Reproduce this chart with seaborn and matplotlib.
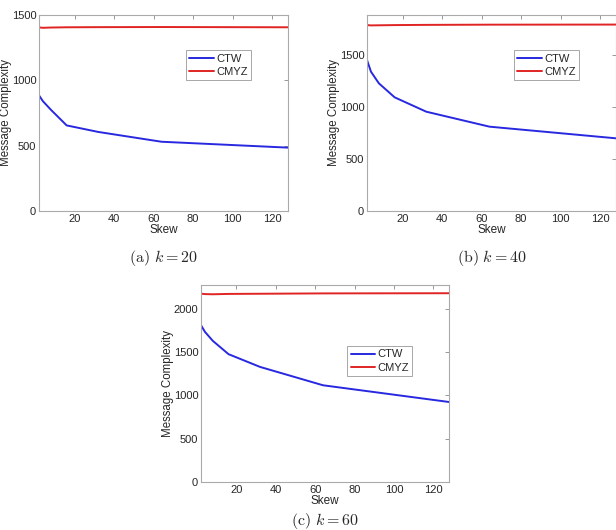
import matplotlib.pyplot as plt
import numpy as np
import pandas as pd
import seaborn as sns

skew = [2, 4, 8, 16, 32, 64, 128]

ctw_k20 = [885, 840, 775, 655, 605, 530, 485]
cmyz_k20 = [1405, 1402, 1404, 1406, 1407, 1408, 1406]

ctw_k40 = [1452, 1340, 1228, 1093, 955, 811, 699]
cmyz_k40 = [1788, 1785, 1786, 1788, 1790, 1792, 1793]

ctw_k60 = [1811, 1734, 1630, 1476, 1329, 1117, 924]
cmyz_k60 = [2175, 2170, 2168, 2172, 2174, 2178, 2180]

panels = [
    {'ctw': ctw_k20, 'cmyz': cmyz_k20, 'ylim': 1500, 'yticks': [0, 500, 1000, 1500],
     'caption': r'$\mathrm{(a)}\ k = 20$', 'pos': [39, 15, 288, 211], 'leg': (0.59, 0.82), 'cap': 47},
    {'ctw': ctw_k40, 'cmyz': cmyz_k40, 'ylim': 1885, 'yticks': [0, 500, 1000, 1500],
     'caption': r'$\mathrm{(b)}\ k = 40$', 'pos': [367, 15, 616, 211], 'leg': (0.59, 0.82), 'cap': 47},
    {'ctw': ctw_k60, 'cmyz': cmyz_k60, 'ylim': 2275, 'yticks': [0, 500, 1000, 1500, 2000],
     'caption': r'$\mathrm{(c)}\ k = 60$', 'pos': [201, 285, 449, 482], 'leg': (0.59, 0.69), 'cap': 39},
]

W, H = 616, 530

sns.set_style('white')
plt.rcParams['font.family'] = ['Liberation Sans', 'DejaVu Sans']
plt.rcParams['mathtext.fontset'] = 'cm'

fig = plt.figure(figsize=(W / 100, H / 100), dpi=100)

for p in panels:
    x0, y0, x1, y1 = p['pos']
    ax = fig.add_axes([x0 / W, 1 - y1 / H, (x1 - x0) / W, (y1 - y0) / H])
    df = pd.DataFrame({
        'Skew': skew * 2,
        'value': p['ctw'] + p['cmyz'],
        'algo': ['CTW'] * len(skew) + ['CMYZ'] * len(skew),
    })
    sns.lineplot(data=df, x='Skew', y='value', hue='algo', ax=ax,
                 palette={'CTW': '#2828e0', 'CMYZ': '#e02424'}, linewidth=1.4)
    ax.set_xlim(2, 128)
    ax.set_ylim(0, p['ylim'])
    ax.set_xticks([20, 40, 60, 80, 100, 120])
    ax.set_yticks(p['yticks'])
    ax.tick_params(direction='in', length=3, width=0.6, color='#888888',
                   labelsize=8, top=True, right=True, pad=2)
    for s in ax.spines.values():
        s.set_color('#aaaaaa')
        s.set_linewidth(0.8)
    ax.set_xlabel('Skew', fontsize=8.5, labelpad=0)
    ax.set_ylabel('Message Complexity', fontsize=8.3, labelpad=0)
    leg = ax.legend(loc='upper left', bbox_to_anchor=p['leg'], fontsize=8,
                    fancybox=False, framealpha=1, edgecolor='#999999',
                    handlelength=2.2, handletextpad=0.2, borderpad=0.3,
                    labelspacing=0.3, borderaxespad=0)
    leg.get_frame().set_linewidth(0.6)
    fig.text((x0 + x1) / 2 / W, 1 - (y1 + p['cap']) / H, p['caption'],
             ha='center', va='center', fontsize=11.5)

fig.savefig('out.png', dpi=100)
